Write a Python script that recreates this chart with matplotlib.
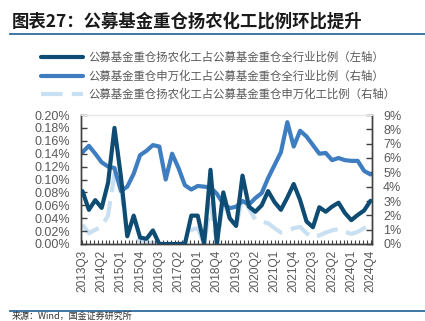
import numpy as np
import matplotlib
matplotlib.use("Agg")
import matplotlib.pyplot as plt
from matplotlib.lines import Line2D
from matplotlib.ticker import FuncFormatter, MultipleLocator

plt.rcParams['font.family'] = ['Liberation Sans', 'Noto Sans CJK SC', 'DejaVu Sans']
CJK = ['Noto Sans CJK SC', 'DejaVu Sans']

# quarters 2013Q3 .. 2024Q4
quarters = [f"{y}Q{q}" for y in range(2013, 2025) for q in range(1, 5)][2:]

# 扬农化工占公募重仓全行业比例 (%), left axis
yangnong_all = [0.082, 0.053, 0.068, 0.056, 0.095, 0.180, 0.105, 0.012, 0.044, 0.010,
                0.008, 0.021, 0.000, 0.000, 0.000, 0.000, 0.000, 0.044, 0.044, 0.000,
                0.115, 0.000, 0.080, 0.040, 0.028, 0.106, 0.058, 0.050, 0.060, 0.082,
                0.065, 0.053, 0.072, 0.093, 0.068, 0.035, 0.026, 0.057, 0.050, 0.058,
                0.064, 0.048, 0.037, 0.045, 0.052, 0.067]
# 申万化工占公募重仓全行业比例 (%), right axis
sw_chem_all = [6.40, 6.85, 6.30, 5.70, 5.40, 5.30, 3.70, 4.00, 4.90, 6.20,
               6.50, 6.90, 6.80, 4.50, 6.30, 5.30, 4.10, 3.80, 4.05, 4.00,
               3.95, 3.50, 2.80, 2.50, 2.60, 3.00, 2.75, 3.20, 3.55, 4.60,
               5.50, 6.40, 8.50, 6.80, 7.90, 7.50, 6.90, 6.30, 6.35, 5.85,
               6.00, 5.85, 5.80, 5.80, 5.10, 4.85]
# 扬农化工占公募重仓申万化工比例 (%), right axis
yangnong_sw = [1.35, 0.75, 1.00, 1.20, 2.00, 4.90, 4.00, 0.60, 0.30, 0.20,
               0.05, 0.10, 0.00, 0.00, 0.00, 0.00, 0.10, 1.00, 1.10, 0.00,
               2.80, 0.00, 3.00, 1.80, 1.15, 3.30, 2.50, 1.70, 1.55, 1.45,
               1.10, 0.80, 0.90, 1.10, 1.20, 0.75, 0.45, 0.60, 0.80, 0.95,
               1.05, 0.85, 0.70, 0.85, 1.10, 1.40]

labels = ['公募基金重仓扬农化工占公募基金重仓全行业比例（左轴）',
          '公募基金重仓申万化工占公募基金重仓全行业比例（右轴）',
          '公募基金重仓扬农化工占公募基金重仓申万化工比例（右轴）']

c_dark = '#0f4c73'
c_mid = '#3d7dc0'
c_light = '#c9e0f2'
grey = '#595959'

x = np.arange(len(quarters))

fig = plt.figure(figsize=(4.25, 3.21), dpi=100)
ax = fig.add_axes([81 / 425, 77 / 321, 291 / 425, 129 / 321])
ax2 = ax.twinx()

l3, = ax2.plot(x, yangnong_sw, color=c_light, lw=3, dashes=(5.2, 2.2),
               solid_joinstyle='round', zorder=1)
l2, = ax2.plot(x, sw_chem_all, color=c_mid, lw=3, solid_joinstyle='round',
               solid_capstyle='round', zorder=2)
l1, = ax.plot(x, yangnong_all, color=c_dark, lw=3, solid_joinstyle='round',
              solid_capstyle='round', zorder=3)

# dark line drawn above the right-axis lines
ax.set_zorder(ax2.get_zorder() + 1)
ax.patch.set_visible(False)

ax.set_xlim(-0.23, 45.23)
ax.set_ylim(0, 0.20)
ax2.set_ylim(0, 9)
ax.set_yticks(np.arange(0, 0.201, 0.02))
ax2.set_yticks(np.arange(0, 10, 1))
ax.yaxis.set_major_formatter(FuncFormatter(lambda v, p: f"{v:.2f}%"))
ax2.yaxis.set_major_formatter(FuncFormatter(lambda v, p: f"{v:.0f}%"))

ax.set_xticks(x[::3])
ax.set_xticklabels(quarters[::3], rotation=90)
ax.xaxis.set_minor_locator(MultipleLocator(0.6))

for a in (ax, ax2):
    for s in ('left', 'right', 'bottom'):
        a.spines[s].set_color('#404040')
        a.spines[s].set_linewidth(1.0)
    a.spines['top'].set_color('#e6e6e6')
    a.tick_params(axis='y', direction='in', length=4, width=1, color='#404040',
                  labelsize=9, labelcolor=grey, pad=8)
ax.tick_params(axis='x', which='both', direction='in', length=3, width=0.8,
               color='#404040', labelsize=8.6, labelcolor=grey, pad=4)
ax2.tick_params(axis='x', which='both', length=0)

# legend
leg = fig.legend([l1, l2, l3], labels, loc='upper left',
                 bbox_to_anchor=(35 / 425, 1 - 46 / 321), frameon=False,
                 handlelength=3.7, handletextpad=0.45, labelspacing=0.62,
                 borderpad=0, prop={'family': CJK, 'size': 8.2})
for t in leg.get_texts():
    t.set_color(grey)

# title and rules
fig.text(12 / 425, 1 - 22 / 321, '图表27：公募基金重仓扬农化工比例环比提升',
         family=CJK, fontsize=12.5, fontweight='bold', color='#1a1a1a',
         va='center', ha='left')
fig.add_artist(Line2D([10 / 425, 1], [1 - 34 / 321] * 2, color='#2f6b9e', lw=1.3))
fig.add_artist(Line2D([10 / 425, 1], [1 - 311 / 321] * 2, color='#2f6b9e', lw=1.3))
fig.text(12 / 425, 1 - 320.5 / 321, '来源：Wind，国金证券研究所', family=CJK,
         fontsize=6.5, color='#333333', va='bottom', ha='left')

fig.savefig('out.png', dpi=100)
